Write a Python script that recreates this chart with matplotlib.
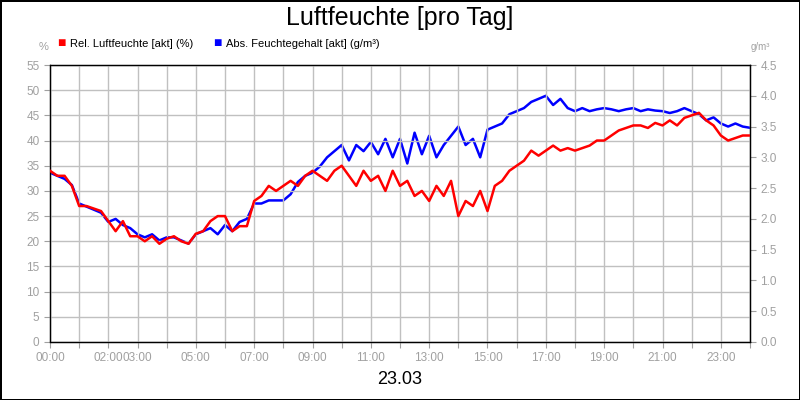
import matplotlib.pyplot as plt
import numpy as np

plt.rcParams['font.family'] = ['Liberation Sans', 'DejaVu Sans']

# Data (15 min steps, 00:00 - 24:00)
hours = np.arange(97) * 0.25
rel = [34, 33, 33, 31, 27,
       27, 26.5, 26, 24, 22, 24, 21, 21, 20, 21, 19.5, 20.5, 21, 20, 19.5, 21.5,
       22, 24, 25, 25, 22, 23, 23, 28, 29, 31, 30, 31, 32, 31, 33, 34,
       33, 32, 34, 35, 33, 31, 34, 32, 33, 30, 34, 31, 32, 29, 30, 28,
       31, 29, 32, 25, 28, 27, 30, 26, 31, 32, 34, 35, 36, 38, 37, 38,
       39, 38, 38.5, 38, 38.5, 39, 40, 40, 41, 42, 42.5, 43, 43, 42.5, 43.5, 43,
       44, 43, 44.5, 45, 45.5, 44, 43, 41, 40, 40.5, 41, 41]
absf = [2.75, 2.7, 2.65, 2.55, 2.25,
        2.2, 2.15, 2.1, 1.95, 2.0, 1.9, 1.85, 1.75, 1.7, 1.75, 1.65, 1.7, 1.7, 1.65, 1.6, 1.75,
        1.8, 1.85, 1.75, 1.9, 1.8, 1.95, 2.0, 2.25, 2.25, 2.3, 2.3, 2.3, 2.4, 2.6, 2.7, 2.75,
        2.85, 3.0, 3.1, 3.2, 2.95, 3.2, 3.1, 3.25, 3.05, 3.3, 3.0, 3.3, 2.9, 3.4, 3.05, 3.35,
        3.0, 3.2, 3.35, 3.5, 3.2, 3.3, 3.0, 3.45, 3.5, 3.55, 3.7, 3.75, 3.8, 3.9, 3.95, 4.0,
        3.85, 3.95, 3.8, 3.75, 3.8, 3.75, 3.78, 3.8, 3.78, 3.75, 3.78, 3.8, 3.75, 3.78, 3.76, 3.75,
        3.72, 3.75, 3.8, 3.75, 3.7, 3.6, 3.65, 3.55, 3.5, 3.55, 3.5, 3.48]
tick_labels = ['00:00', '', '02:00', '03:00', '', '05:00', '', '07:00', '', '09:00', '', '11:00', '',
               '13:00', '', '15:00', '', '17:00', '', '19:00', '', '21:00', '', '23:00', '']

gray = '#a0a0a0'
fig = plt.figure(figsize=(8, 4), dpi=100)
fig.patch.set_edgecolor('black')
fig.patch.set_linewidth(2)
ax = fig.add_axes([0.0625, 0.145, 0.875, 0.6925])
ax2 = ax.twinx()

ax.plot(hours, rel, color='#ff0000', lw=1.8, zorder=3)
ax2.plot(hours, absf, color='#0000ff', lw=1.8)
ax.set_zorder(ax2.get_zorder() + 1)
ax.patch.set_visible(False)

ax.set_xlim(0, 24)
ax.set_ylim(0, 55)
ax2.set_ylim(0, 4.5)
ax.set_xticks(range(25))
ax.set_xticklabels(tick_labels)
ax.set_yticks(range(0, 56, 5))
ax2.set_yticks(np.arange(0, 4.51, 0.5))
ax2.set_yticklabels(['%.1f' % v for v in np.arange(0, 4.51, 0.5)])
ax.grid(True, color='#c0c0c0', lw=1)
for a in (ax, ax2):
    a.tick_params(colors=gray, labelsize=8.5, length=4)
    for s in a.spines.values():
        s.set_color('black')
        s.set_linewidth(0.9)

fig.text(0.5, 0.955, 'Luftfeuchte [pro Tag]', ha='center', va='center', fontsize=18)
fig.text(0.5, 0.05, '23.03', ha='center', va='center', fontsize=13)
fig.text(0.055, 0.875, '%', ha='center', color=gray, fontsize=8)
fig.text(0.95, 0.875, 'g/m³', ha='center', color=gray, fontsize=7)
fig.text(0.071, 0.882, '■', color='#ff0000', fontsize=10, va='baseline')
fig.text(0.087, 0.882, 'Rel. Luftfeuchte [akt] (%)', fontsize=8)
fig.text(0.266, 0.882, '■', color='#0000ff', fontsize=10, va='baseline')
fig.text(0.282, 0.882, 'Abs. Feuchtegehalt [akt] (g/m³)', fontsize=8)

fig.savefig('out.png', dpi=100, edgecolor=fig.get_edgecolor())
